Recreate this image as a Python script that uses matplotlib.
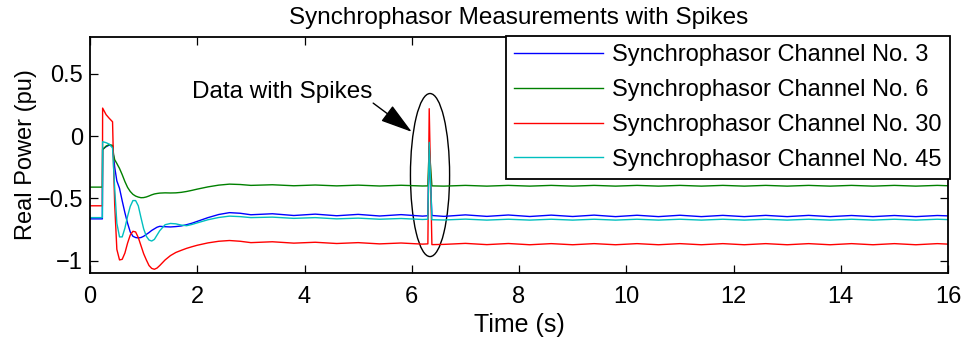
import matplotlib
matplotlib.use("Agg")
from matplotlib import pyplot as plt
from matplotlib.patches import Ellipse

plt.rcParams['font.family'] = ['Liberation Sans', 'DejaVu Sans']

# Sample times (s), shared by every channel
time = [0.0, 0.23, 0.235, 0.30, 0.36, 0.42, 0.44, 0.46,
        0.50, 0.55, 0.60, 0.65, 0.70, 0.75, 0.80, 0.85, 0.90, 0.95,
        1.00, 1.05, 1.10, 1.15, 1.20, 1.25, 1.30, 1.40, 1.50, 1.60,
        1.70, 1.80, 1.90, 2.00, 2.20, 2.40, 2.60, 2.80, 3.00,
        3.40, 3.80, 4.20, 4.60, 5.00, 5.40, 5.80, 6.20,
        6.30, 6.325, 6.375,
        6.60, 7.00, 7.40, 7.80, 8.20, 8.60, 9.00, 9.40, 9.80, 10.20, 10.60, 11.00,
        11.40, 11.80, 12.20, 12.60, 13.00, 13.40, 13.80, 14.20, 14.60, 15.00, 15.40, 15.80, 16.00]

# Real power per channel (pu)
ch3 = [-0.665, -0.665, -0.105, -0.085, -0.072, -0.080, -0.170, -0.250,
       -0.360, -0.420, -0.520, -0.615, -0.700, -0.770, -0.805, -0.815, -0.818, -0.815,
       -0.805, -0.790, -0.775, -0.758, -0.745, -0.732, -0.725, -0.728, -0.730, -0.727,
       -0.722, -0.712, -0.700, -0.685, -0.655, -0.630, -0.615, -0.620, -0.632,
       -0.624, -0.638, -0.627, -0.640, -0.629, -0.642, -0.631, -0.643,
       -0.640, -0.090, -0.638,
       -0.645, -0.633, -0.645, -0.634, -0.646, -0.635, -0.646, -0.635, -0.647, -0.636, -0.647, -0.636,
       -0.647, -0.637, -0.647, -0.637, -0.647, -0.637, -0.647, -0.638, -0.647, -0.638, -0.647, -0.638, -0.641]

ch6 = [-0.410, -0.410, -0.110, -0.080, -0.068, -0.075, -0.150, -0.190,
       -0.220, -0.260, -0.310, -0.365, -0.412, -0.445, -0.468, -0.482, -0.490, -0.495,
       -0.494, -0.489, -0.481, -0.472, -0.465, -0.461, -0.458, -0.456, -0.457, -0.456,
       -0.452, -0.445, -0.436, -0.426, -0.408, -0.394, -0.386, -0.389, -0.396,
       -0.391, -0.399, -0.393, -0.400, -0.394, -0.401, -0.395, -0.401,
       -0.400, -0.080, -0.400,
       -0.402, -0.396, -0.402, -0.396, -0.402, -0.396, -0.402, -0.396, -0.402, -0.396, -0.402, -0.396,
       -0.402, -0.396, -0.402, -0.396, -0.402, -0.396, -0.402, -0.396, -0.402, -0.396, -0.402, -0.396, -0.399]

ch30 = [-0.560, -0.560, 0.225, 0.172, 0.142, 0.115, -0.250, -0.550,
        -0.910, -0.995, -0.990, -0.940, -0.860, -0.795, -0.765, -0.770, -0.815, -0.880,
        -0.945, -0.995, -1.040, -1.063, -1.070, -1.060, -1.040, -0.995, -0.960, -0.935,
        -0.918, -0.902, -0.889, -0.877, -0.858, -0.845, -0.839, -0.845, -0.856,
        -0.849, -0.860, -0.853, -0.863, -0.856, -0.866, -0.859, -0.868,
        -0.866, 0.220, -0.872,
        -0.870, -0.862, -0.872, -0.863, -0.873, -0.864, -0.873, -0.864, -0.873, -0.864, -0.873, -0.864,
        -0.873, -0.864, -0.873, -0.864, -0.873, -0.864, -0.873, -0.864, -0.873, -0.864, -0.873, -0.864, -0.868]

ch45 = [-0.655, -0.655, -0.045, -0.053, -0.065, -0.095, -0.260, -0.420,
        -0.700, -0.810, -0.810, -0.740, -0.645, -0.565, -0.518, -0.518, -0.560, -0.655,
        -0.745, -0.805, -0.835, -0.843, -0.830, -0.795, -0.760, -0.712, -0.702, -0.705,
        -0.715, -0.720, -0.710, -0.697, -0.672, -0.654, -0.643, -0.647, -0.655,
        -0.651, -0.661, -0.655, -0.665, -0.659, -0.668, -0.662, -0.670,
        -0.668, -0.050, -0.672,
        -0.674, -0.667, -0.675, -0.668, -0.675, -0.668, -0.675, -0.668, -0.675, -0.668, -0.675, -0.668,
        -0.675, -0.668, -0.675, -0.668, -0.675, -0.668, -0.675, -0.668, -0.675, -0.668, -0.675, -0.668, -0.671]

channels = [ch3, ch6, ch30, ch45]
labels = ['Synchrophasor Channel No. 3', 'Synchrophasor Channel No. 6',
          'Synchrophasor Channel No. 30', 'Synchrophasor Channel No. 45']
colors = ['#0000ff', '#008000', '#ff0000', '#00bfbf']

x_ticks = [0, 2, 4, 6, 8, 10, 12, 14, 16]
y_ticks = [-1, -0.5, 0, 0.5]
y_tick_labels = ['\u22121', '\u22120.5', '0', '0.5']

fig = plt.figure(figsize=(9.67, 3.41), dpi=100)
ax = fig.add_axes([0.0931, 0.1994, 0.8873, 0.6935])

for values, label, color in zip(channels, labels, colors):
    ax.plot(time, values, color=color, linewidth=1.0, label=label)

ax.set_xlim(0, 16)
ax.set_ylim(-1.1, 0.8)
ax.set_xticks(x_ticks)
ax.set_yticks(y_ticks)
ax.set_yticklabels(y_tick_labels)

# Boxed axes with inward ticks on all sides
for s in ['top', 'bottom', 'left', 'right']:
    ax.spines[s].set_linewidth(1.3)
ax.tick_params(axis='both', which='both', direction='in', length=6, width=0.9,
               top=True, right=True, labelsize=17)
ax.tick_params(axis='x', pad=9)
ax.tick_params(axis='y', pad=5)

ax.set_xlabel('Time (s)', fontsize=18, labelpad=4)
ax.set_ylabel('Real Power (pu)', fontsize=17, labelpad=0)
ax.set_title('Synchrophasor Measurements with Spikes', fontsize=17.5, pad=9)

# Highlight the spikes
ax.add_patch(Ellipse((6.34, -0.313), 0.73, 1.31, fill=False, edgecolor='black', linewidth=1.0))
ax.text(3.58, 0.31, 'Data with Spikes', fontsize=17.5, ha='center', va='baseline')
ax.annotate('', xy=(6.0, 0.034), xytext=(5.28, 0.265),
            arrowprops=dict(arrowstyle='-|>,head_length=1.0,head_width=0.3',
                            mutation_scale=20, color='black', linewidth=1.0,
                            shrinkA=0, shrinkB=0))

leg = ax.legend(loc='upper right', bbox_to_anchor=(950 / 967, 1 - 36 / 341),
                bbox_transform=fig.transFigure, fontsize=17, fancybox=False,
                framealpha=1, edgecolor='black', borderpad=0.36, labelspacing=0.54,
                handlelength=3.75, handletextpad=0.38, borderaxespad=0)
leg.get_frame().set_linewidth(1.3)

fig.savefig('out.png', dpi=100)
